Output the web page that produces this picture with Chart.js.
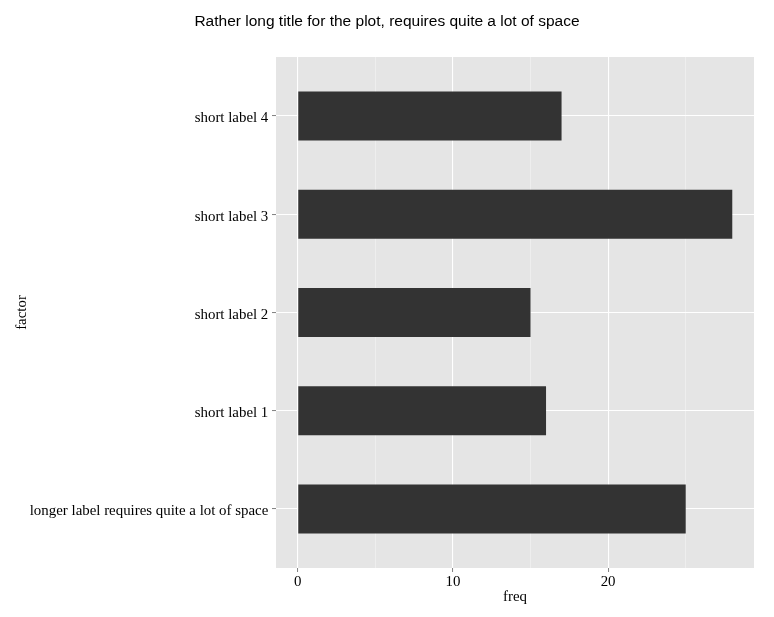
<!DOCTYPE html>
<html>
<head>
<meta charset="utf-8">
<script src="https://cdn.jsdelivr.net/npm/chart.js@4/dist/chart.umd.min.js"></script>
<style>
  html, body { margin: 0; padding: 0; background: #ffffff; }
  #wrap { width: 774px; height: 617px; }
</style>
</head>
<body>
<div id="wrap"><canvas id="c" width="774" height="617"></canvas></div>
<script>
// ---- data ----
const categories = [
  'longer label requires quite a lot of space',
  'short label 1',
  'short label 2',
  'short label 3',
  'short label 4'
];
const freq = [25, 16, 15, 28, 17];
const xTickValues = [0, 5, 10, 15, 20, 25];
const xMajorTicks = [0, 10, 20];
const titleText = 'Rather long title for the plot, requires quite a lot of space';
const xTitle = 'freq';
const yTitle = 'factor';

const points = categories.map((c, i) => ({ x: freq[i], y: i + 1 }));

const serif = "'Liberation Serif', 'Times New Roman', serif";
const sans = "'Liberation Sans', Arial, sans-serif";

const panelBg = {
  id: 'panelBg',
  beforeDraw(chart) {
    const { ctx, chartArea: a } = chart;
    ctx.save();
    ctx.fillStyle = '#ffffff';
    ctx.fillRect(0, 0, chart.width, chart.height);
    ctx.fillStyle = '#E5E5E5';
    ctx.fillRect(a.left, a.top, a.right - a.left, a.bottom - a.top);
    ctx.restore();
  }
};

const isMajor = (ctx) => ctx.tick && xMajorTicks.includes(ctx.tick.value);

new Chart(document.getElementById('c'), {
  type: 'bar',
  data: {
    datasets: [{
      data: points,
      backgroundColor: '#333333',
      borderWidth: 0,
      barPercentage: 0.5,
      categoryPercentage: 1.0
    }]
  },
  options: {
    indexAxis: 'y',
    responsive: false,
    animation: false,
    events: [],
    layout: { padding: { left: 0, right: 0, top: 0, bottom: 0 } },
    plugins: {
      legend: { display: false },
      tooltip: { enabled: false },
      title: {
        display: true,
        text: titleText,
        color: '#000000',
        font: { family: sans, size: 15.5, weight: 'normal', lineHeight: 1.2 },
        padding: { top: 12, bottom: 26.4 }
      }
    },
    scales: {
      x: {
        type: 'linear',
        position: 'bottom',
        min: -1.4,
        max: 29.4,
        offset: false,
        afterBuildTicks(scale) { scale.ticks = xTickValues.map(v => ({ value: v })); },
        afterFit(scale) { scale.height = 49; },
        ticks: {
          autoSkip: false,
          maxRotation: 0,
          padding: 1.5,
          color: '#000000',
          font: { family: serif, size: 14.9 },
          callback: (v) => xMajorTicks.includes(v) ? String(v) : ''
        },
        grid: {
          offset: false,
          color: (ctx) => isMajor(ctx) ? '#FFFFFF' : '#F2F2F2',
          lineWidth: (ctx) => isMajor(ctx) ? 1.1 : 0.7,
          drawTicks: true,
          tickLength: 4,
          tickColor: (ctx) => isMajor(ctx) ? '#7F7F7F' : 'rgba(0,0,0,0)',
          tickWidth: 1
        },
        border: { display: false },
        title: {
          display: true,
          text: xTitle,
          color: '#000000',
          font: { family: serif, size: 14.9, lineHeight: 1.2 },
          padding: { top: 0, bottom: 10.5 }
        }
      },
      y: {
        type: 'linear',
        position: 'left',
        min: 0.4,
        max: 5.6,
        offset: false,
        afterBuildTicks(scale) { scale.ticks = categories.map((c, i) => ({ value: i + 1 })); },
        afterFit(scale) { scale.width = 276; },
        ticks: {
          autoSkip: false,
          padding: 3.7,
          labelOffset: 2.5,
          color: '#000000',
          font: { family: serif, size: 14.9 },
          callback: (v) => categories[Math.round(v) - 1] || ''
        },
        grid: {
          offset: false,
          color: '#FFFFFF',
          lineWidth: 1.1,
          drawTicks: true,
          tickLength: 4,
          tickColor: '#7F7F7F',
          tickWidth: 1
        },
        border: { display: false },
        title: {
          display: true,
          text: yTitle,
          color: '#000000',
          font: { family: serif, size: 14.9, lineHeight: 1.2 },
          padding: { top: 13.2, bottom: 0 }
        }
      },
      spacer: {
        type: 'linear',
        position: 'right',
        axis: 'y',
        min: 0,
        max: 1,
        afterFit(scale) { scale.width = 20; },
        ticks: { display: false },
        grid: { display: false, drawTicks: false },
        border: { display: false },
        title: { display: false }
      }
    }
  },
  plugins: [panelBg]
});
</script>
</body>
</html>
